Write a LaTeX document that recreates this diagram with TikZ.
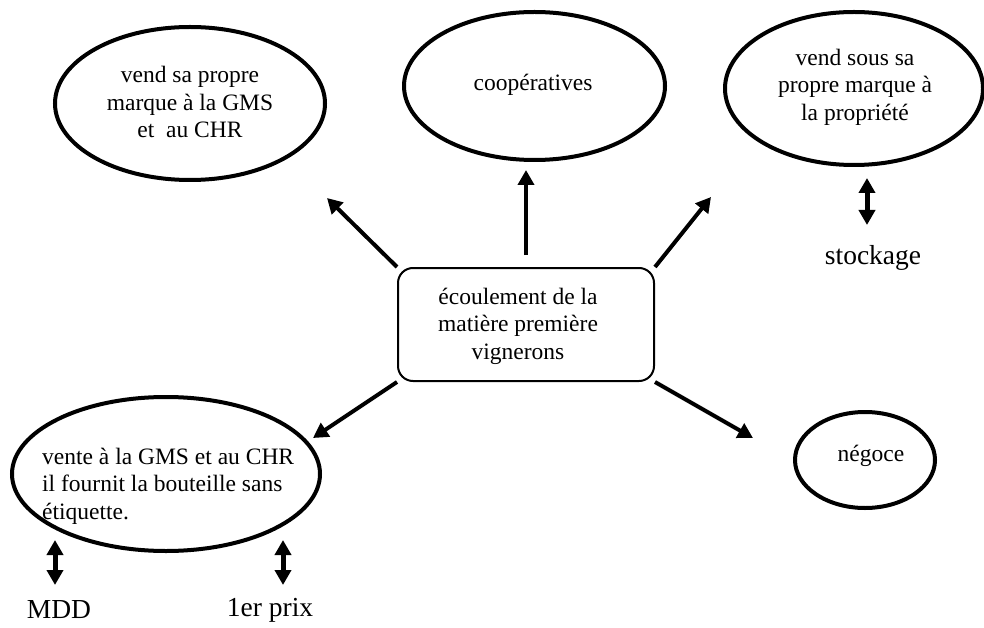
\documentclass[tikz,border=0pt]{standalone}
\usepackage{fontspec}
\setmainfont{Liberation Serif}
\usetikzlibrary{shapes.geometric,arrows.meta}
\tikzset{
  oval/.style={draw=black, line width=4pt, ellipse, inner sep=0pt},
  centerbox/.style={draw=black, line width=2pt, rectangle, rounded corners=15pt, inner sep=0pt},
  txt/.style={inner sep=0pt, align=center, font=\fontsize{23.5pt}{27.5pt}\selectfont},
  bigtxt/.style={inner sep=0pt, font=\fontsize{27.5pt}{31pt}\selectfont},
  arr/.style={line width=4pt, -{Triangle[length=15pt,width=16pt]}},
  dblarr/.style={line width=5pt, {Triangle[length=15pt,width=16pt]}-{Triangle[length=15pt,width=16pt]}}
}
\begin{document}
\begin{tikzpicture}[x=1pt,y=-1pt]
\useasboundingbox (0,0) rectangle (984,628);
% shapes
\node[oval, minimum width=270pt, minimum height=153pt] (gms) at (190,103.5) {};
\node[oval, minimum width=261pt, minimum height=148pt] (coop) at (534.5,86) {};
\node[oval, minimum width=258pt, minimum height=153pt] (prop) at (854,88.5) {};
\node[oval, minimum width=140pt, minimum height=96pt] (neg) at (865,460) {};
\node[oval, minimum width=308pt, minimum height=154pt] (vente) at (166,474) {};
\node[centerbox, minimum width=256pt, minimum height=113pt] (box) at (526,324.5) {};
% texts
\node[txt] (tgms) at (190,102) {vend sa propre\\marque à la GMS\\et\ \ au CHR};
\node[txt] (tcoop) at (533,85) {coopératives};
\node[txt] (tprop) at (855,87) {vend sous sa\\propre marque à\\la propriété};
\node[txt] (tbox) at (518,326) {écoulement de la\\matière première\\vignerons};
\node[txt] (tneg) at (871,456) {négoce};
\node[txt, align=left, anchor=west] (tvente) at (42,486) {vente à la GMS et au CHR\\il fournit la bouteille sans\\étiquette.};
\node[bigtxt] (stock) at (873,258) {stockage};
\node[bigtxt] (mdd) at (59,610) {MDD};
\node[bigtxt] (prix) at (270,610) {1er prix};
% arrow ends
\coordinate (pUL) at (327,198);
\coordinate (pUtail) at (526,255);
\coordinate (pU) at (526,170);
\coordinate (pUR) at (711,197);
\coordinate (pDL) at (313,438);
\coordinate (pDR) at (753,438);
\draw[arr] (box.north west) -- (pUL);
\draw[arr] (pUtail) -- (pU);
\draw[arr] (box.north east) -- (pUR);
\draw[arr] (box.south west) -- (pDL);
\draw[arr] (box.south east) -- (pDR);
% double arrows
\coordinate (s1) at (867,178);
\coordinate (s2) at (867,225);
\coordinate (m1) at (55,540);
\coordinate (m2) at (55,585);
\coordinate (q1) at (283,540);
\coordinate (q2) at (283,585);
\draw[dblarr] (s1) -- (s2);
\draw[dblarr] (m1) -- (m2);
\draw[dblarr] (q1) -- (q2);
\end{tikzpicture}
\end{document}
